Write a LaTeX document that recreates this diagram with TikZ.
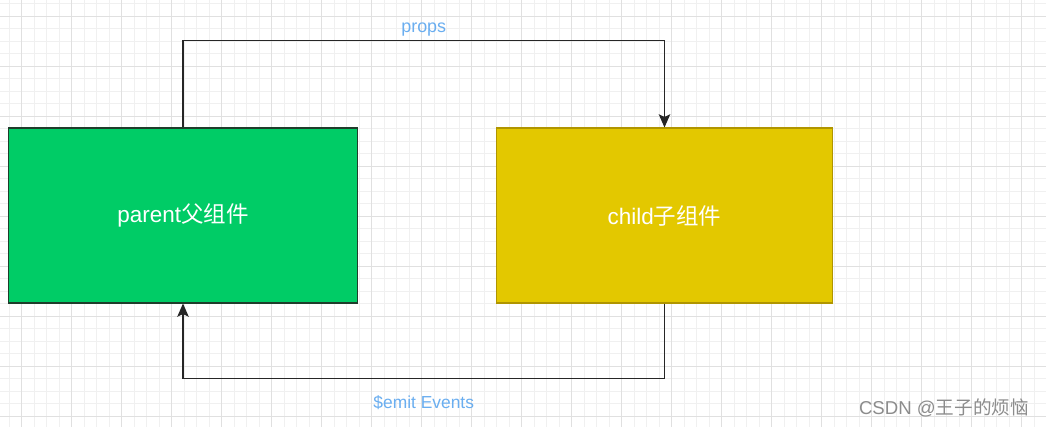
\documentclass[tikz,border=0pt]{standalone}
\usepackage{fontspec}
\setmainfont{Liberation Sans}
\newfontfamily\cjk{Noto Sans CJK SC}
\usepackage{tikz}
\usetikzlibrary{arrows.meta,positioning}
\definecolor{parentgreen}{HTML}{00CC66}
\definecolor{parentline}{HTML}{1F3D2B}
\definecolor{childyellow}{HTML}{E3C800}
\definecolor{childline}{HTML}{B09500}
\definecolor{labelblue}{HTML}{6AAEF0}
\definecolor{gridminor}{HTML}{F0F0F0}
\definecolor{gridmajor}{HTML}{E0E0E0}
\definecolor{markgray}{HTML}{8C8C8C}

\begin{document}
\begin{tikzpicture}[
    x=0.02cm, y=-0.02cm,
    comp/.style   = {rectangle, draw, line width=0.6pt, minimum height=3.5cm,
                     font=\fontsize{12.8}{15}\selectfont, text=white},
    arrow/.style  = {-{Stealth[length=7.5pt,width=6.5pt,inset=1.5pt]}, line width=0.7pt, black!85},
    flowlab/.style= {text=labelblue},
]

  \useasboundingbox (0,0) rectangle (1046,427);
  \fill[white] (0,0) rectangle (1046,427);

  % grid
  \begin{scope}
    \clip (0,0) rectangle (1046,427);
    \foreach \i in {0,...,83}
      \draw[gridminor, line width=0.4pt] ({9.2+12.5*\i},0) -- ++(0,427);
    \foreach \j in {0,...,34}
      \draw[gridminor, line width=0.4pt] (0,{3.5+12.5*\j}) -- ++(1046,0);
    \foreach \i in {0,...,20}
      \draw[gridmajor, line width=0.4pt] ({21.7+50*\i},0) -- ++(0,427);
    \foreach \j in {0,...,8}
      \draw[gridmajor, line width=0.4pt] (0,{16+50*\j}) -- ++(1046,0);
  \end{scope}

  \node[comp, draw=parentline, fill=parentgreen, minimum width=7cm]
      (parent) at (183,215.5) {parent{\cjk 父组件}};
  \node[comp, draw=childline, fill=childyellow, minimum width=6.74cm]
      (child) at (664.5,215.5) {child{\cjk 子组件}};

  % props down
  \draw[arrow] (parent.north) -- ++(0,-87) -| (child.north)
      node[pos=0.25, above=-1.5pt, flowlab, font=\fontsize{10.2}{12}\selectfont] {props};

  % events up
  \draw[arrow] (child.south) -- ++(0,75) -| (parent.south)
      node[pos=0.25, below=6pt, flowlab, font=\fontsize{9.9}{12}\selectfont] {\$emit Events};

  \node[text=markgray, font=\fontsize{10.6}{13}\selectfont] (mark) at (944,408)
      {CSDN @{\cjk 王子的烦恼}};

\end{tikzpicture}
\end{document}
